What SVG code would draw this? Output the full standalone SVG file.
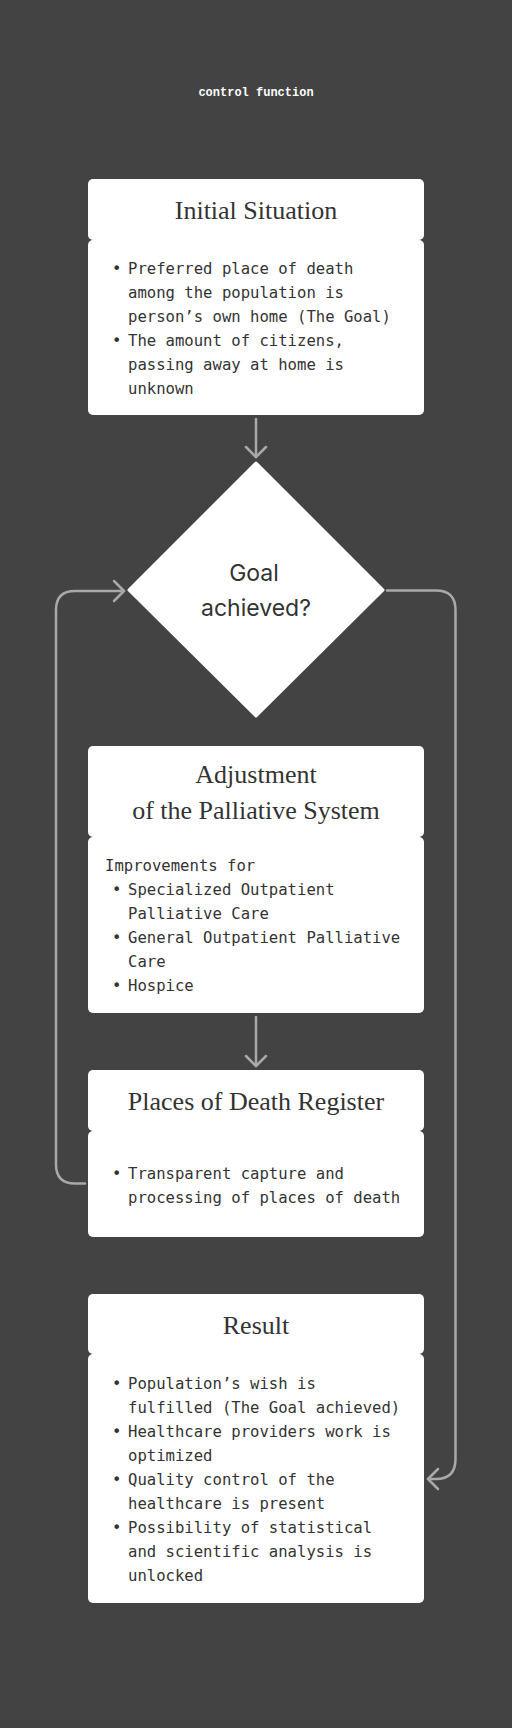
<svg xmlns="http://www.w3.org/2000/svg" width="512" height="1728" viewBox="0 0 512 1728">
  <defs>
    <style>
      .card { fill: #ffffff; }
      .title { font-family: "Liberation Serif", serif; font-size: 26px; fill: #333333; text-anchor: middle; }
      .body { font-family: "DejaVu Sans Mono", "Liberation Mono", monospace; font-size: 15.6px; fill: #333333; }
      .dec { font-family: "Inter", "Liberation Sans", sans-serif; font-size: 23px; fill: #333333; text-anchor: middle; }
      .conn { fill: none; stroke: #a9a9a9; stroke-width: 2.5; stroke-linecap: round; stroke-linejoin: round; }
    </style>
    <marker id="arrow" viewBox="-12 -12 14 24" markerWidth="14" markerHeight="24" refX="0" refY="0" orient="auto" markerUnits="userSpaceOnUse">
      <path d="M-10,-10 L0,0 L-10,10" fill="none" stroke="#a9a9a9" stroke-width="2.5" stroke-linecap="round" stroke-linejoin="round"/>
    </marker>
  </defs>
  <rect x="0" y="0" width="512" height="1728" fill="#434343"/>
  <text x="256" y="96" font-family="Liberation Mono, monospace" font-size="12" font-weight="bold" fill="#ffffff" text-anchor="middle">control function</text>

  <g id="connectors">
    <path class="conn" d="M256 419 V457" marker-end="url(#arrow)"/>
    <path class="conn" d="M256 1017 V1066" marker-end="url(#arrow)"/>
    <path class="conn" d="M85 1183.5 H75 Q56 1183.5 56 1164.5 V610 Q56 591 75 591 H124" marker-end="url(#arrow)"/>
    <path class="conn" d="M387 590.5 H436 Q455.5 590.5 455.5 610 V1459 Q455.5 1479 436 1479 H428" marker-end="url(#arrow)"/>
  </g>

  <g id="initial-situation">
    <rect class="card" x="88" y="179" width="336" height="61" rx="5"/>
    <rect class="card" x="88" y="240" width="336" height="175" rx="5"/>
    <text class="title" x="256" y="219">Initial Situation</text>
    <text class="body" x="112" y="274">•</text>
    <text class="body" x="128" y="274">Preferred place of death</text>
    <text class="body" x="128" y="298">among the population is</text>
    <text class="body" x="128" y="322">person’s own home (The Goal)</text>
    <text class="body" x="112" y="346">•</text>
    <text class="body" x="128" y="346">The amount of citizens,</text>
    <text class="body" x="128" y="370">passing away at home is</text>
    <text class="body" x="128" y="394">unknown</text>
  </g>

  <g id="goal-decision">
    <path d="M256 463 L383 590 L256 716 L129 590 Z" fill="#ffffff" stroke="#ffffff" stroke-width="3" stroke-linejoin="round"/>
    <text class="dec" x="254" y="581">Goal</text>
    <text class="dec" x="256" y="616">achieved?</text>
  </g>

  <g id="adjustment">
    <rect class="card" x="88" y="746" width="336" height="91" rx="5"/>
    <rect class="card" x="88" y="837" width="336" height="176" rx="5"/>
    <text class="title" x="256" y="783">Adjustment</text>
    <text class="title" x="256" y="819">of the Palliative System</text>
    <text class="body" x="105" y="871">Improvements for</text>
    <text class="body" x="112" y="895">•</text>
    <text class="body" x="128" y="895">Specialized Outpatient</text>
    <text class="body" x="128" y="919">Palliative Care</text>
    <text class="body" x="112" y="943">•</text>
    <text class="body" x="128" y="943">General Outpatient Palliative</text>
    <text class="body" x="128" y="967">Care</text>
    <text class="body" x="112" y="991">•</text>
    <text class="body" x="128" y="991">Hospice</text>
  </g>

  <g id="places-register">
    <rect class="card" x="88" y="1070" width="336" height="61" rx="5"/>
    <rect class="card" x="88" y="1131" width="336" height="106" rx="5"/>
    <text class="title" x="256" y="1110">Places of Death Register</text>
    <text class="body" x="112" y="1179">•</text>
    <text class="body" x="128" y="1179">Transparent capture and</text>
    <text class="body" x="128" y="1203">processing of places of death</text>
  </g>

  <g id="result">
    <rect class="card" x="88" y="1294" width="336" height="60" rx="5"/>
    <rect class="card" x="88" y="1354" width="336" height="249" rx="5"/>
    <text class="title" x="256" y="1334">Result</text>
    <text class="body" x="112" y="1389">•</text>
    <text class="body" x="128" y="1389">Population’s wish is</text>
    <text class="body" x="128" y="1413">fulfilled (The Goal achieved)</text>
    <text class="body" x="112" y="1437">•</text>
    <text class="body" x="128" y="1437">Healthcare providers work is</text>
    <text class="body" x="128" y="1461">optimized</text>
    <text class="body" x="112" y="1485">•</text>
    <text class="body" x="128" y="1485">Quality control of the</text>
    <text class="body" x="128" y="1509">healthcare is present</text>
    <text class="body" x="112" y="1533">•</text>
    <text class="body" x="128" y="1533">Possibility of statistical</text>
    <text class="body" x="128" y="1557">and scientific analysis is</text>
    <text class="body" x="128" y="1581">unlocked</text>
  </g>
</svg>
